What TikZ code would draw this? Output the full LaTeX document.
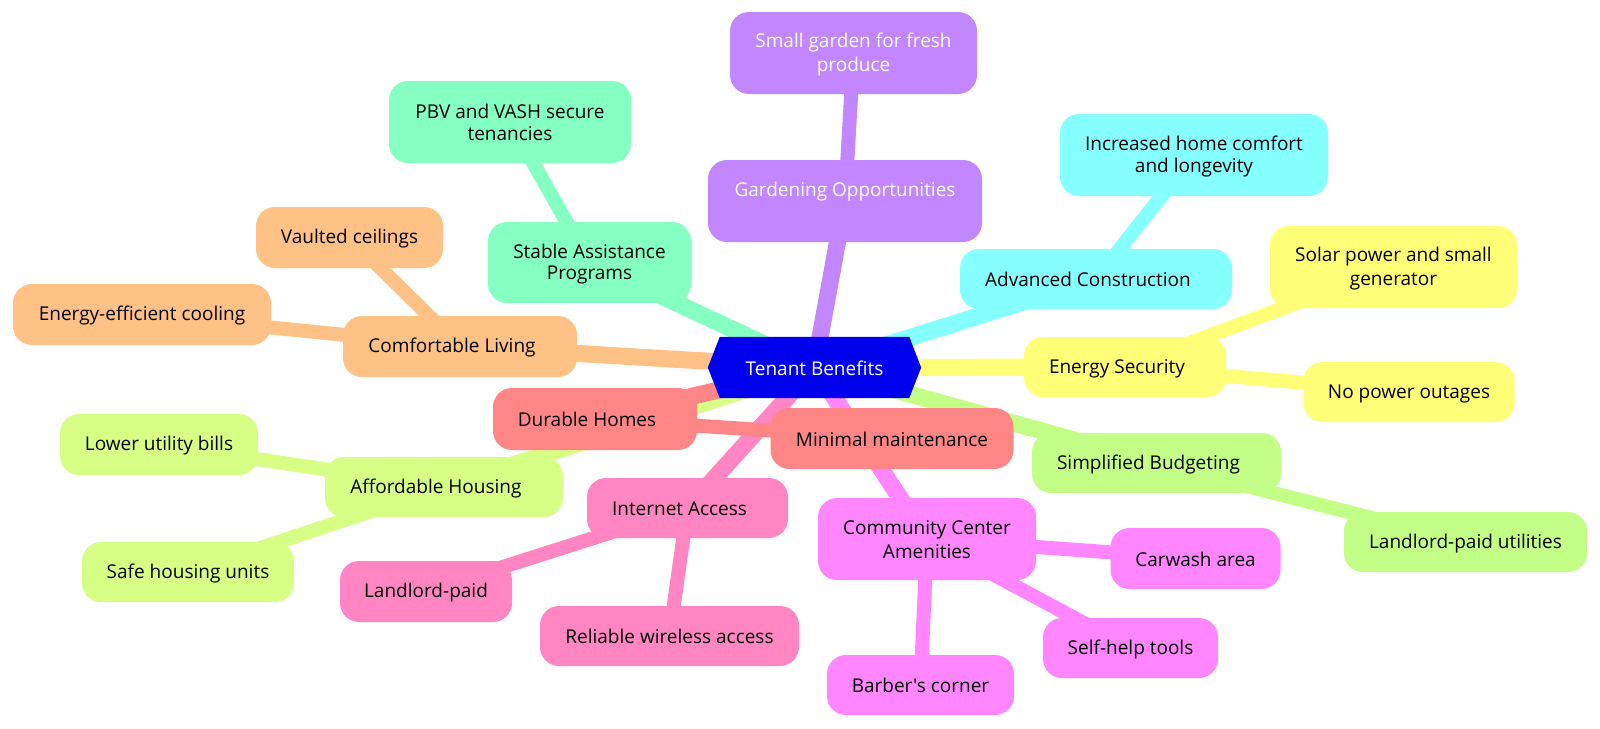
\documentclass[tikz,border=0pt]{standalone}
\usepackage{fontspec}
\newfontfamily\osf{Open Sans}
\pgfdeclarelayer{bg}
\pgfdeclarelayer{mid}
\pgfsetlayers{bg,mid,main}
\definecolor{cRoot}{HTML}{0000EC}
\definecolor{cYel}{HTML}{FFFF78}
\definecolor{cLime}{HTML}{D7FF86}
\definecolor{cPur}{HTML}{C286FF}
\definecolor{cMag}{HTML}{FF86FF}
\definecolor{cPink}{HTML}{FF86C2}
\definecolor{cSal}{HTML}{FF8686}
\definecolor{cOra}{HTML}{FFC286}
\definecolor{cGrn}{HTML}{C3FF86}
\definecolor{cMint}{HTML}{86FFC2}
\definecolor{cCyan}{HTML}{86FFFF}
\newcommand\st{\rule[-2.5pt]{0pt}{20pt}}
\begin{document}
\begin{tikzpicture}[x=1pt,y=-1pt,
  box/.style={rounded corners=19pt, inner sep=0pt, align=center,
    font=\osf\fontsize{19}{21.5}\selectfont, text=black},
  e1/.style={line width=17pt},
  e2/.style={line width=14pt}]
\useasboundingbox (0,0) rectangle (1600,728);

% root
\node[inner sep=0pt, minimum width=213pt, minimum height=61pt, text=white,
  font=\osf\fontsize{19}{21.5}\selectfont] (root) at (814.5,367.5) {\st Tenant Benefits};
\begin{pgfonlayer}{mid}
\fill[cRoot] (root.west) -- ([xshift=12pt]root.north west) -- ([xshift=-12pt]root.north east)
  -- (root.east) -- ([xshift=-12pt]root.south east) -- ([xshift=12pt]root.south west) -- cycle;
\end{pgfonlayer}

% Energy Security
\node[box, fill=cYel, minimum width=202pt, minimum height=60pt] (es) at (1125,367) {\st Energy Security\hspace*{16pt}};
\node[box, fill=cYel, minimum width=247pt, minimum height=82pt] (es1) at (1393.5,267) {\st Solar power and small\\\st generator};
\node[box, fill=cYel, minimum width=211pt, minimum height=60pt] (es2) at (1409,392) {\st No power outages};
% Affordable Housing
\node[box, fill=cLime, minimum width=238pt, minimum height=60pt] (ah) at (444,487) {\st Affordable Housing\hspace*{16pt}};
\node[box, fill=cLime, minimum width=198pt, minimum height=61pt] (ah1) at (159,444.5) {\st Lower utility bills};
\node[box, fill=cLime, minimum width=212pt, minimum height=60pt] (ah2) at (188,572) {\st Safe housing units};
% Gardening
\node[box, fill=cPur, text=white, minimum width=274pt, minimum height=82pt] (go) at (845,201) {\st Gardening Opportunities\\\st\mbox{}};
\node[box, fill=cPur, text=white, minimum width=247pt, minimum height=82pt] (go1) at (853.5,53) {\st Small garden for fresh\\\st produce};
% Community Center
\node[box, fill=cMag, minimum width=218pt, minimum height=82pt] (cc) at (927,539) {\st Community Center\\\st Amenities};
\node[box, fill=cMag, minimum width=170pt, minimum height=61pt] (cc1) at (1195.5,558.5) {\st Carwash area};
\node[box, fill=cMag, minimum width=175pt, minimum height=60pt] (cc2) at (1130.5,648) {\st Self-help tools};
\node[box, fill=cMag, minimum width=187pt, minimum height=60pt] (cc3) at (920.5,685) {\st Barber's corner};
% Internet Access
\node[box, fill=cPink, minimum width=201pt, minimum height=60pt] (ia) at (687.5,508) {\st Internet Access\hspace*{16pt}};
\node[box, fill=cPink, minimum width=172pt, minimum height=61pt] (ia1) at (426,591.5) {\st Landlord-paid};
\node[box, fill=cPink, minimum width=259pt, minimum height=60pt] (ia2) at (669.5,636) {\st Reliable wireless access};
% Durable Homes
\node[box, fill=cSal, minimum width=204pt, minimum height=62pt] (dh) at (595,419) {\st Durable Homes\hspace*{16pt}};
\node[box, fill=cSal, minimum width=243pt, minimum height=61pt] (dh1) at (892,438.5) {\st Minimal maintenance};
% Comfortable Living
\node[box, fill=cOra, minimum width=234pt, minimum height=61pt] (cl) at (460,346.5) {\st Comfortable Living\hspace*{16pt}};
\node[box, fill=cOra, minimum width=187pt, minimum height=61pt] (cl1) at (349.5,237.5) {\st Vaulted ceilings};
\node[box, fill=cOra, minimum width=258pt, minimum height=61pt] (cl2) at (142,314.5) {\st Energy-efficient cooling};
% Simplified Budgeting
\node[box, fill=cGrn, minimum width=249pt, minimum height=60pt] (sb) at (1156.5,463) {\st Simplified Budgeting\hspace*{16pt}};
\node[box, fill=cGrn, minimum width=243pt, minimum height=60pt] (sb1) at (1465.5,542) {\st Landlord-paid utilities};
% Stable Assistance
\node[box, fill=cMint, minimum width=203pt, minimum height=81pt] (sa) at (589.5,262.5) {\st Stable Assistance\\\st Programs};
\node[box, fill=cMint, minimum width=242pt, minimum height=82pt] (sa1) at (510,122) {\st PBV and VASH secure\\\st tenancies};
% Advanced Construction
\node[box, fill=cCyan, minimum width=272pt, minimum height=60pt] (ac) at (1096,279) {\st Advanced Construction\hspace*{16pt}};
\node[box, fill=cCyan, minimum width=268pt, minimum height=82pt] (ac1) at (1194,155) {\st Increased home comfort\\\st and longevity};

\begin{pgfonlayer}{bg}
\fill[white] (0,0) rectangle (1600,728);
\draw[e1, cYel] (root.center) -- (es.center);
\draw[e2, cYel] (es.center) -- (es1.center);
\draw[e2, cYel] (es.center) -- (es2.center);
\draw[e1, cLime] (root.center) -- (ah.center);
\draw[e2, cLime] (ah.center) -- (ah1.center);
\draw[e2, cLime] (ah.center) -- (ah2.center);
\draw[e1, cPur] (root.center) -- (go.center);
\draw[e2, cPur] (go.center) -- (go1.center);
\draw[e1, cMag] (root.center) -- (cc.center);
\draw[e2, cMag] (cc.center) -- (cc1.center);
\draw[e2, cMag] (cc.center) -- (cc2.center);
\draw[e2, cMag] (cc.center) -- (cc3.center);
\draw[e1, cPink] (root.center) -- (ia.center);
\draw[e2, cPink] (ia.center) -- (ia1.center);
\draw[e2, cPink] (ia.center) -- (ia2.center);
\draw[e1, cSal] (root.center) -- (dh.center);
\draw[e2, cSal] (dh.center) -- (dh1.center);
\draw[e1, cOra] (root.center) -- (cl.center);
\draw[e2, cOra] (cl.center) -- (cl1.center);
\draw[e2, cOra] (cl.center) -- (cl2.center);
\draw[e1, cGrn] (root.center) -- (sb.center);
\draw[e2, cGrn] (sb.center) -- (sb1.center);
\draw[e1, cMint] (root.center) -- (sa.center);
\draw[e2, cMint] (sa.center) -- (sa1.center);
\draw[e1, cCyan] (root.center) -- (ac.center);
\draw[e2, cCyan] (ac.center) -- (ac1.center);
\end{pgfonlayer}
\end{tikzpicture}
\end{document}
